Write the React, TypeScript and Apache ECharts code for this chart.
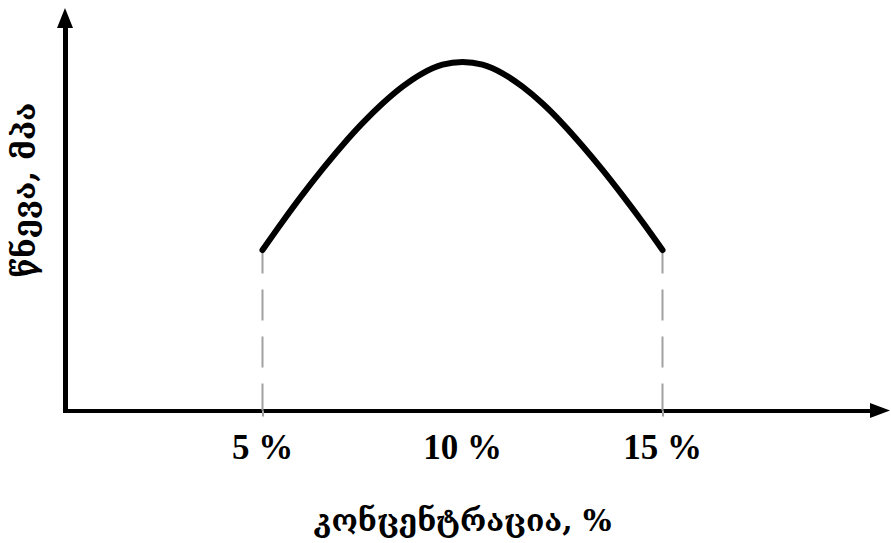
import React, { useEffect, useRef } from "react";
import * as echarts from "echarts";

// concentration, % (x) and pressure (y, arbitrary units)
const concentration = [5, 5.5, 6, 6.5, 7, 7.5, 8, 8.5, 9, 9.5, 10, 10.5, 11, 11.5, 12, 12.5, 13, 13.5, 14, 14.5, 15];
const pressure = [4.09, 4.81, 5.5, 6.15, 6.76, 7.32, 7.82, 8.25, 8.59, 8.81, 8.88, 8.81, 8.59, 8.25, 7.82, 7.31, 6.74, 6.13, 5.48, 4.8, 4.09];
const tickValues = [5, 10, 15];
const guideValues = [5, 15];
const xTitle = "კონცენტრაცია, %";
const yTitle = "წნევა, მპა";

export default function App() {
  const ref = useRef<HTMLDivElement>(null);
  useEffect(() => {
    if (!ref.current) return;
    document.body.style.margin = "0";
    const chart = echarts.init(ref.current, null, { renderer: "svg" });
    const curve = concentration.map((c, i) => [c, pressure[i]]);
    const guides = guideValues.map((g) => {
      const idx = concentration.indexOf(g);
      return {
        type: "line",
        data: [
          [g, 0],
          [g, pressure[idx]],
        ],
        symbol: "none",
        silent: true,
        z: 1,
        lineStyle: { color: "#a0a0a0", width: 2, type: [31, 16], dashOffset: 4 },
      };
    });
    chart.setOption({
      animation: false,
      backgroundColor: "#ffffff",
      grid: { left: 65, right: 11, top: 18, bottom: 132.5, containLabel: false },
      xAxis: {
        type: "value",
        min: 0.0625,
        max: 20.4375,
        splitLine: { show: false },
        axisLine: {
          show: true,
          symbol: ["none", "triangle"],
          symbolSize: [15, 20],
          lineStyle: { color: "#000", width: 4, cap: "square" },
        },
        axisTick: {
          show: true,
          customValues: guideValues,
          length: 6,
          lineStyle: { color: "#a0a0a0", width: 2 },
        },
        axisLabel: {
          show: true,
          customValues: tickValues,
          formatter: (v: number) => `${v} %`,
          margin: 19,
          color: "#000",
          fontFamily: "Liberation Serif",
          fontWeight: "bold",
          fontSize: 35,
        },
      },
      yAxis: {
        type: "value",
        min: 0,
        max: 10,
        splitLine: { show: false },
        axisTick: { show: false },
        axisLabel: { show: false },
        axisLine: {
          show: true,
          symbol: ["none", "triangle"],
          symbolSize: [16, 20],
          lineStyle: { color: "#000", width: 5 },
        },
      },
      graphic: [
        {
          type: "text",
          x: 462.5,
          y: 520,
          style: {
            text: xTitle,
            fill: "#000",
            font: "bold 30px 'DejaVu Serif', 'DejaVu Sans'",
            textAlign: "center",
            textVerticalAlign: "middle",
          },
        },
        {
          type: "text",
          x: 24,
          y: 190,
          rotation: Math.PI / 2,
          style: {
            text: yTitle,
            fill: "#000",
            font: "bold 31px 'DejaVu Serif', 'DejaVu Sans'",
            textAlign: "center",
            textVerticalAlign: "middle",
          },
        },
      ],
      series: [
        ...guides,
        {
          type: "line",
          data: curve,
          smooth: 0.3,
          symbol: "none",
          silent: true,
          z: 3,
          lineStyle: { color: "#000", width: 6, cap: "round", join: "round" },
        },
      ],
    });
    return () => chart.dispose();
  }, []);
  return <div ref={ref} style={{ width: 891, height: 543 }} />;
}
